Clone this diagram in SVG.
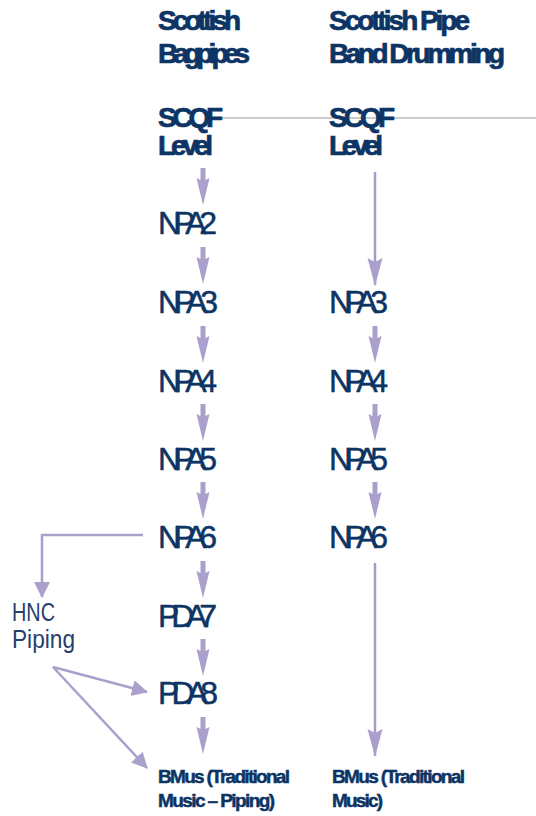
<svg xmlns="http://www.w3.org/2000/svg" width="536" height="816" viewBox="0 0 536 816">
  <style>
    .hd { font-family: "Liberation Sans", Arial, sans-serif; font-weight: bold; font-size: 28px; fill: #0c3464; stroke: #0c3464; stroke-width: 0.7; }
    .lv { font-family: "Liberation Sans", Arial, sans-serif; font-size: 32px; fill: #0c3464; stroke: #0c3464; stroke-width: 0.5; }
    .bm { font-family: "Liberation Sans", Arial, sans-serif; font-weight: bold; font-size: 19px; fill: #0c3464; stroke: #0c3464; stroke-width: 0.5; }
    .hnc { font-family: "Liberation Sans", Arial, sans-serif; font-size: 25px; fill: #26406e; }
    .conn { fill: none; stroke: #ab9fcc; stroke-width: 2.5; }
    .long { fill: none; stroke: #a69dc2; stroke-width: 2.5; }
    .sa { fill: #ab9fcc; }
  </style>
  <defs>
    <path id="smallArrow" class="sa" d="M-2.5,0 L2.5,0 L2.5,12 L6.5,10 L0,37 L-6.5,10 L-2.5,12 Z"/>
    <marker id="head" markerUnits="userSpaceOnUse" markerWidth="16" markerHeight="16" viewBox="0 0 16 16" refX="15" refY="8" orient="auto">
      <path d="M0,0 L16,8 L0,16 Z" fill="#ab9fcc"/>
    </marker>
    <marker id="longHead" markerUnits="userSpaceOnUse" markerWidth="28" markerHeight="16" viewBox="0 0 28 16" refX="27" refY="8" orient="auto">
      <path d="M0,0.5 L28,8 L0,15.5 L4,8 Z" fill="#ab9fcc"/>
    </marker>
  </defs>

  <line x1="205" y1="118" x2="536" y2="118" stroke="#cccccc" stroke-width="2"/>

  <g id="connectors">
    <use href="#smallArrow" x="203" y="168"/>
    <use href="#smallArrow" x="203" y="247"/>
    <use href="#smallArrow" x="203" y="326"/>
    <use href="#smallArrow" x="203" y="404"/>
    <use href="#smallArrow" x="203" y="482"/>
    <use href="#smallArrow" x="203" y="561"/>
    <use href="#smallArrow" x="203" y="639"/>
    <use href="#smallArrow" x="203" y="717"/>
    <use href="#smallArrow" x="375" y="326"/>
    <use href="#smallArrow" x="375" y="404"/>
    <use href="#smallArrow" x="375" y="482"/>
    <path class="long" d="M375,172 L375,285" marker-end="url(#longHead)"/>
    <path class="long" d="M375,563 L375,756" marker-end="url(#longHead)"/>
    <path class="conn" d="M143,535 L42,535 L42,597" marker-end="url(#head)"/>
    <path class="conn" d="M53,667 L147,692" marker-end="url(#head)"/>
    <path class="conn" d="M53,667 L147,768" marker-end="url(#head)"/>
  </g>

  <g id="hdr-bagpipes">
    <text class="hd" x="158" y="30" textLength="83" lengthAdjust="spacing">Scottish</text>
    <text class="hd" x="158" y="63" textLength="92" lengthAdjust="spacing">Bagpipes</text>
  </g>
  <g id="hdr-drumming">
    <text class="hd" x="329" y="30" textLength="141" lengthAdjust="spacing">Scottish Pipe</text>
    <text class="hd" x="329" y="63" textLength="176" lengthAdjust="spacing">Band Drumming</text>
  </g>
  <g id="scqf-left">
    <text class="hd" x="158" y="127" textLength="65" lengthAdjust="spacing">SCQF</text>
    <text class="hd" x="158" y="155" textLength="55" lengthAdjust="spacing">Level</text>
  </g>
  <g id="scqf-right">
    <text class="hd" x="329" y="127" textLength="66" lengthAdjust="spacing">SCQF</text>
    <text class="hd" x="329" y="155" textLength="54" lengthAdjust="spacing">Level</text>
  </g>

  <g id="l-npa2"><text class="lv" x="158" y="234" textLength="59" lengthAdjust="spacing">NPA2</text></g>
  <g id="l-npa3"><text class="lv" x="158" y="313" textLength="60" lengthAdjust="spacing">NPA3</text></g>
  <g id="l-npa4"><text class="lv" x="158" y="392" textLength="59" lengthAdjust="spacing">NPA4</text></g>
  <g id="l-npa5"><text class="lv" x="158" y="470" textLength="59" lengthAdjust="spacing">NPA5</text></g>
  <g id="l-npa6"><text class="lv" x="158" y="548" textLength="59" lengthAdjust="spacing">NPA6</text></g>
  <g id="l-pda7"><text class="lv" x="158" y="627" textLength="59" lengthAdjust="spacing">PDA7</text></g>
  <g id="l-pda8"><text class="lv" x="158" y="704" textLength="60" lengthAdjust="spacing">PDA8</text></g>
  <g id="l-bmus">
    <text class="bm" x="158" y="783" textLength="132" lengthAdjust="spacing">BMus (Traditional</text>
    <text class="bm" x="158" y="807" textLength="117" lengthAdjust="spacing">Music – Piping)</text>
  </g>

  <g id="r-npa3"><text class="lv" x="329" y="313" textLength="59" lengthAdjust="spacing">NPA3</text></g>
  <g id="r-npa4"><text class="lv" x="329" y="392" textLength="59" lengthAdjust="spacing">NPA4</text></g>
  <g id="r-npa5"><text class="lv" x="329" y="470" textLength="59" lengthAdjust="spacing">NPA5</text></g>
  <g id="r-npa6"><text class="lv" x="329" y="548" textLength="59" lengthAdjust="spacing">NPA6</text></g>
  <g id="r-bmus">
    <text class="bm" x="332" y="783" textLength="133" lengthAdjust="spacing">BMus (Traditional</text>
    <text class="bm" x="332" y="807" textLength="51" lengthAdjust="spacing">Music)</text>
  </g>

  <g id="hnc">
    <text class="hnc" x="12" y="621" textLength="43" lengthAdjust="spacingAndGlyphs">HNC</text>
    <text class="hnc" x="12" y="648" textLength="63" lengthAdjust="spacingAndGlyphs">Piping</text>
  </g>
</svg>
